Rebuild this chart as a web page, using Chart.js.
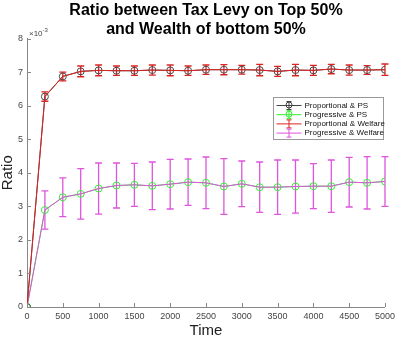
<!DOCTYPE html>
<html>
<head>
<meta charset="utf-8">
<script src="https://cdn.jsdelivr.net/npm/chart.js@4/dist/chart.umd.min.js"></script>
<style>
    html, body { margin: 0; padding: 0; background: #fff; }
    #wrap { position: relative; width: 399px; height: 338px; }
</style>
</head>
<body>
<div id="wrap"><canvas id="ratioChart"></canvas></div>
<script>
// time steps
const times = [0, 250, 500, 750, 1000, 1250, 1500, 1750, 2000, 2250, 2500,
               2750, 3000, 3250, 3500, 3750, 4000, 4250, 4500, 4750, 5000];

// ratio (x 10^-3); PS and Welfare runs sit on top of each other
const propMean = [0, 6.27, 6.87, 7.02, 7.05, 7.04, 7.04, 7.06, 7.05, 7.04, 7.07,
                  7.07, 7.07, 7.06, 7.02, 7.06, 7.05, 7.09, 7.06, 7.06, 7.07];
const propErr  = [0, 0.14, 0.13, 0.16, 0.16, 0.14, 0.14, 0.15, 0.16, 0.14, 0.14,
                  0.15, 0.13, 0.17, 0.15, 0.17, 0.15, 0.14, 0.15, 0.13, 0.17];
const progMean = [0, 2.89, 3.27, 3.37, 3.53, 3.62, 3.64, 3.61, 3.66, 3.72, 3.70,
                  3.59, 3.67, 3.57, 3.57, 3.59, 3.60, 3.60, 3.72, 3.70, 3.74];
const progErr  = [0, 0.57, 0.58, 0.75, 0.76, 0.67, 0.64, 0.71, 0.74, 0.69, 0.77,
                  0.83, 0.68, 0.75, 0.81, 0.79, 0.67, 0.78, 0.74, 0.78, 0.74];

const seriesNames = ['Proportional & PS', 'Progressive & PS', 'Proportional & Welfare', 'Progressive & Welfare'];
const xTicks = [0, 500, 1000, 1500, 2000, 2500, 3000, 3500, 4000, 4500, 5000];
const yTicks = [0, 1, 2, 3, 4, 5, 6, 7, 8];

const FONT = "'Liberation Sans', Arial, Helvetica, sans-serif";
const colors = ['#444444', '#33ee33', '#dd2222', '#e050e0'];

function toPoints(vals) {
    return times.map((t, i) => ({ x: t, y: vals[i] }));
}

// error bars, inward ticks, exponent label and a matlab-ish legend
const extras = {
    id: 'extras',
    beforeDatasetsDraw(chart) {
        const ctx = chart.ctx;
        const xs = chart.scales.x, ys = chart.scales.y;
        const bars = [[propMean, propErr, '#dd2222'], [progMean, progErr, '#dd55dd']];
        ctx.save();
        ctx.lineWidth = 1.3;
        bars.forEach(([m, e, c]) => {
            ctx.strokeStyle = c;
            times.forEach((t, i) => {
                if (!e[i]) return;
                const px = xs.getPixelForValue(t);
                const top = ys.getPixelForValue(m[i] + e[i]);
                const bot = ys.getPixelForValue(m[i] - e[i]);
                ctx.beginPath();
                ctx.moveTo(px, top); ctx.lineTo(px, bot);
                ctx.moveTo(px - 3.5, top); ctx.lineTo(px + 3.5, top);
                ctx.moveTo(px - 3.5, bot); ctx.lineTo(px + 3.5, bot);
                ctx.stroke();
            });
        });
        ctx.restore();
    },
    afterDraw(chart) {
        const ctx = chart.ctx;
        const area = chart.chartArea;
        const xs = chart.scales.x, ys = chart.scales.y;
        ctx.save();

        // ticks pointing into the plot
        ctx.strokeStyle = '#888';
        ctx.lineWidth = 1;
        ctx.beginPath();
        xTicks.forEach(v => {
            const px = Math.round(xs.getPixelForValue(v)) + 0.5;
            ctx.moveTo(px, area.bottom); ctx.lineTo(px, area.bottom - 4);
        });
        yTicks.forEach(v => {
            const py = Math.round(ys.getPixelForValue(v)) + 0.5;
            ctx.moveTo(area.left, py); ctx.lineTo(area.left + 4, py);
        });
        ctx.stroke();

        // x10^-3
        ctx.fillStyle = '#444';
        ctx.textBaseline = 'middle';
        ctx.textAlign = 'left';
        ctx.font = '8px ' + FONT;
        ctx.fillText('\u00d710', area.left + 2, area.top - 5);
        const w = ctx.measureText('\u00d710').width;
        ctx.font = '6px ' + FONT;
        ctx.fillText('-3', area.left + 2 + w, area.top - 8);

        // legend
        const lx = 273.5, ly = 97.5, lw = 110, lh = 42;
        ctx.fillStyle = '#fff';
        ctx.fillRect(lx, ly, lw, lh);
        ctx.strokeStyle = '#999';
        ctx.strokeRect(lx, ly, lw, lh);
        ctx.font = '8px ' + FONT;
        seriesNames.forEach((name, i) => {
            const yy = ly + 8 + i * 9.2;
            ctx.strokeStyle = colors[i];
            ctx.lineWidth = 1;
            ctx.beginPath();
            ctx.moveTo(lx + 3, yy); ctx.lineTo(lx + 28, yy);
            ctx.moveTo(lx + 15.5, yy - 4); ctx.lineTo(lx + 15.5, yy + 4);
            ctx.moveTo(lx + 13, yy - 4); ctx.lineTo(lx + 18, yy - 4);
            ctx.moveTo(lx + 13, yy + 4); ctx.lineTo(lx + 18, yy + 4);
            ctx.stroke();
            if (i < 2) {
                ctx.beginPath();
                ctx.arc(lx + 15.5, yy - 0.5, 3, 0, Math.PI * 2);
                ctx.stroke();
            }
            ctx.fillStyle = '#111';
            ctx.fillText(name, lx + 31, yy);
        });
        ctx.restore();
    }
};

const ctx = document.getElementById('ratioChart').getContext('2d');
const chart = new Chart(ctx, {
    type: 'line',
    data: {
        datasets: [{
            label: seriesNames[0],
            data: toPoints(propMean),
            borderColor: '#444',
            borderWidth: 1,
            pointRadius: 3.5,
            pointBorderColor: '#4a4a4a',
            pointBackgroundColor: 'transparent',
            pointBorderWidth: 1,
            order: 2
        }, {
            label: seriesNames[1],
            data: toPoints(progMean),
            borderColor: '#33ee33',
            borderWidth: 1,
            pointRadius: 3.5,
            pointBorderColor: '#33ee33',
            pointBackgroundColor: 'transparent',
            pointBorderWidth: 1,
            order: 2
        }, {
            label: seriesNames[2],
            data: toPoints(propMean),
            borderColor: '#dd2222',
            borderWidth: 1,
            pointRadius: 0,
            order: 1
        }, {
            label: seriesNames[3],
            data: toPoints(progMean),
            borderColor: '#dd55dd',
            borderWidth: 1,
            pointRadius: 0,
            order: 1
        }]
    },
    options: {
        responsive: true,
        maintainAspectRatio: false,
        animation: false,
        layout: {
            padding: { top: 0, right: 10, left: 0, bottom: 0 }
        },
        plugins: {
            legend: { display: false },
            tooltip: { enabled: false },
            title: {
                display: true,
                fullSize: false,
                text: ['Ratio between Tax Levy on Top 50%', 'and Wealth of bottom 50%'],
                color: '#000',
                font: { family: FONT, size: 16, weight: 'bold', lineHeight: '19px' },
                padding: { top: 1.5, bottom: -1 }
            }
        },
        scales: {
            x: {
                type: 'linear',
                min: 0,
                max: 5000,
                afterFit: s => { s.height = 31; },
                afterBuildTicks: s => { s.ticks = xTicks.map(v => ({ value: v })); },
                grid: { display: false, drawTicks: false },
                border: { color: '#888' },
                ticks: {
                    color: '#444',
                    padding: 4,
                    maxRotation: 0,
                    font: { family: FONT, size: 9 },
                    callback: v => String(v)
                },
                title: {
                    display: true,
                    text: 'Time',
                    color: '#222',
                    padding: 0,
                    font: { family: FONT, size: 15, lineHeight: 1 }
                }
            },
            y: {
                min: 0,
                max: 8,
                afterFit: s => { s.width = 27; },
                afterBuildTicks: s => { s.ticks = yTicks.map(v => ({ value: v })); },
                grid: { display: false, drawTicks: false },
                border: { color: '#888' },
                ticks: {
                    color: '#444',
                    padding: 4,
                    font: { family: FONT, size: 9 },
                    callback: v => String(v)
                },
                title: {
                    display: true,
                    text: 'Ratio',
                    color: '#222',
                    padding: 0,
                    font: { family: FONT, size: 15, lineHeight: 1 }
                }
            }
        }
    },
    plugins: [extras]
});
</script>
</body>
</html>
